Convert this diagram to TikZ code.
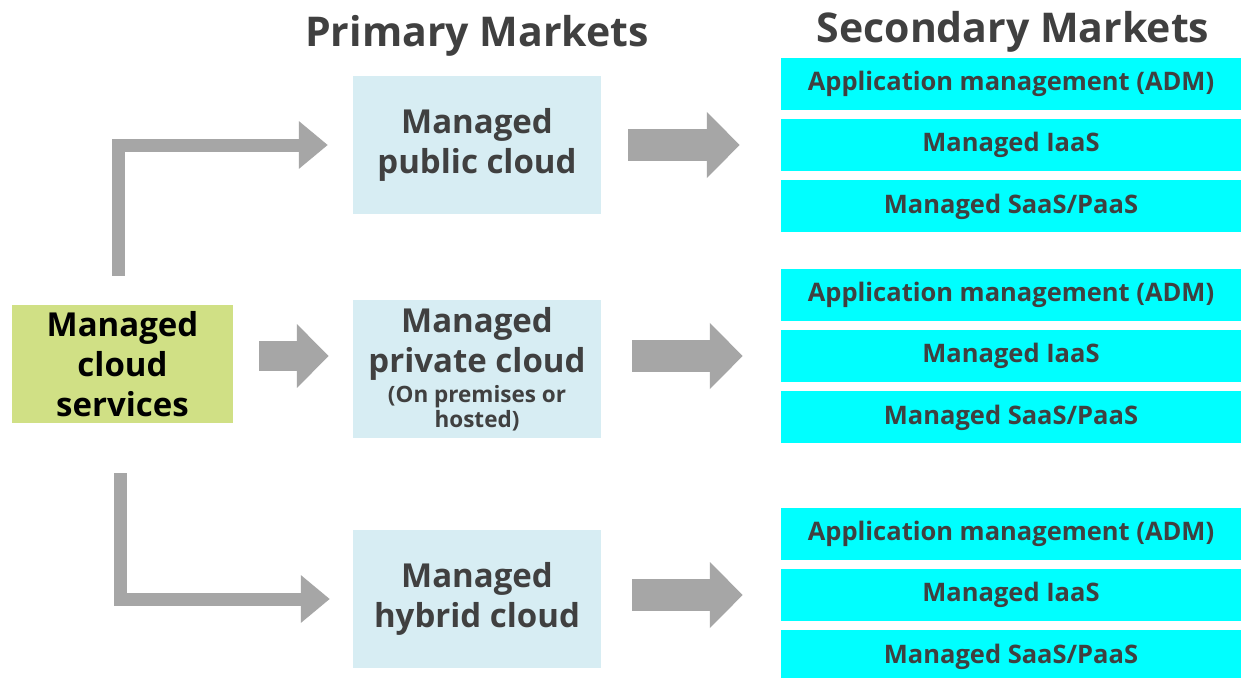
\documentclass[tikz,border=0pt]{standalone}
\usepackage{fontspec}
\setmainfont{Open Sans}
\usetikzlibrary{positioning,arrows.meta}
\definecolor{leafgreen}{RGB}{208,224,133}
\definecolor{paleblue}{RGB}{215,237,243}
\definecolor{brightcyan}{RGB}{0,255,255}
\definecolor{arrowgray}{RGB}{166,166,166}
\definecolor{ink}{RGB}{64,64,64}

\begin{document}
\begin{tikzpicture}[x=1pt, y=-1pt,
  market/.style={fill=paleblue, minimum width=248pt, minimum height=138pt, inner sep=0pt,
    align=center, text=ink, font=\fontsize{33}{40}\selectfont\bfseries},
  segment/.style={fill=brightcyan, minimum width=460pt, minimum height=52pt, inner sep=0pt,
    text=ink, font=\fontsize{25.5}{30}\selectfont\bfseries},
  heading/.style={text=ink, anchor=base, font=\fontsize{41}{48}\selectfont\bfseries},
  block/.style={draw=arrowgray, line width=32pt, -{Triangle[length=33pt,width=64pt]}},
  elbow/.style={draw=arrowgray, line width=13pt, line join=miter, -{Triangle[length=29pt,width=46pt]}}]
  \fill[white] (0,0) rectangle (1241,677);
  \useasboundingbox (0,0) rectangle (1241,677);

  \node[fill=leafgreen, minimum width=221pt, minimum height=118pt, inner sep=0pt, align=center,
    font=\fontsize{33}{40}\selectfont\bfseries] (svc) at (122.5,364) {Managed\\cloud\\services};

  \node[market] (pub) at (477,145) {Managed\\public cloud};
  \node[market] (priv) at (477,369)
    {Managed\\private cloud\\[-10pt]\fontsize{22.5}{25}\selectfont (On premises or\\[-15pt]
     \fontsize{22.5}{25}\selectfont hosted)};
  \node[market] (hyb) at (477,599) {Managed\\hybrid cloud};

  \node[heading] (prim) at (477,47) {Primary Markets};
  \node[heading] (sec) at (1013,43) {Secondary Markets};

  \foreach \g/\y in {a/145,b/356,c/595} {
    \node[segment] (iaas\g) at (1011,\y) {Managed IaaS};
    \node[segment, above=9pt of iaas\g] (adm\g) {Application management (ADM)};
    \node[segment, below=9pt of iaas\g] (saas\g) {Managed SaaS/PaaS};
  }

  % primary -> secondary
  \draw[block, shorten <=27pt, shorten >=41pt] (pub.east |- iaasa.west) -- (iaasa.west);
  \draw[block, shorten <=31pt, shorten >=38pt] (priv.east |- iaasb.west) -- (iaasb.west);
  \draw[block, shorten <=31pt, shorten >=38pt] (hyb.east |- iaasc.west) -- (iaasc.west);

  % services -> primary
  \draw[block, line width=30pt, -{Triangle[length=32pt,width=62pt]}, shorten <=26pt, shorten >=24pt]
    (svc.east |- iaasb.west) -- (priv.west |- iaasb.west);
  \draw[elbow, shorten <=29pt, shorten >=25pt] ([xshift=-4pt]svc.north) |- (pub.west);
  \draw[elbow, shorten <=50pt, shorten >=23pt] ([xshift=-2pt]svc.south) |- (hyb.west);
\end{tikzpicture}
\end{document}
